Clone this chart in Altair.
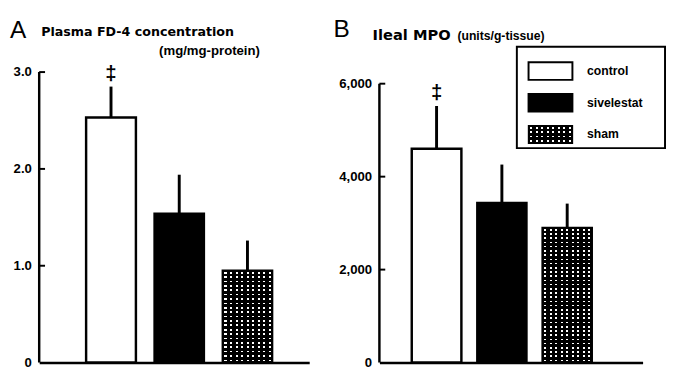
import altair as alt
import pandas as pd

# ---------------- data ----------------
groups = ["control", "sivelestat", "sham"]
fd4_mean = [2.53, 1.54, 0.95]
fd4_err = [0.32, 0.40, 0.31]
mpo_mean = [4600, 3440, 2900]
mpo_err = [920, 820, 520]
sig_marks = ["‡", "", ""]
fd4_ticks = [0, 1, 2, 3]
mpo_ticks = [0, 2000, 4000, 6000]

HEAVY = "DejaVu Sans"
SANS = "Liberation Sans"


def stripe_gradient(n, lo, hi, on_color, off_color, vertical):
    stops = []
    for i in range(n):
        a = i / n
        stops += [
            {"offset": round(a, 5), "color": off_color},
            {"offset": round(a + lo / n, 5), "color": off_color},
            {"offset": round(a + lo / n, 5), "color": on_color},
            {"offset": round(a + hi / n, 5), "color": on_color},
            {"offset": round(a + hi / n, 5), "color": off_color},
            {"offset": round((i + 1) / n, 5), "color": off_color},
        ]
    g = {"gradient": "linear", "stops": stops, "x1": 0, "y1": 0}
    if vertical:
        g.update(x2=0, y2=1)
    else:
        g.update(x2=1, y2=0)
    return g


def one(text=""):
    return alt.Chart(pd.DataFrame({"t": [text]}))


def textmark(text, x, y, size, font, weight="bold"):
    return one(text).mark_text(
        align="left", baseline="alphabetic", fontSize=size, font=font,
        fontWeight=weight, color="black"
    ).encode(x=alt.value(x), y=alt.value(y), text="t:N")


def panel(means, errs, ticks, ymax, width, pin, pout, align, label_expr, rows, titles):
    df = pd.DataFrame({
        "group": groups,
        "mean": means,
        "top": [m + e for m, e in zip(means, errs)],
        "sig": sig_marks,
    })
    tdf = pd.DataFrame({"v": ticks})
    yaxis = alt.Axis(title=None, values=ticks, labelExpr=label_expr, domain=False,
                     ticks=False, grid=False, labelFlush=False, labelPadding=8)
    yscale = alt.Scale(domain=[0, ymax], nice=False, zero=True)
    X = alt.X("group:N", scale=alt.Scale(domain=groups, paddingInner=pin,
                                          paddingOuter=pout, align=align),
              axis=alt.Axis(title=None, labels=False, ticks=False, domain=True,
                            domainColor="black", domainWidth=2.5))

    def Y(f):
        return alt.Y(f, scale=yscale, axis=yaxis)

    base = alt.Chart(df)
    control = base.transform_filter(f"datum.group == '{groups[0]}'").mark_bar(
        fill="white", stroke="black", strokeWidth=2.5).encode(x=X, y=Y("mean:Q"))
    sive = base.transform_filter(f"datum.group == '{groups[1]}'").mark_bar(
        fill="black", stroke="black", strokeWidth=2).encode(x=X, y=Y("mean:Q"))
    sham1 = base.transform_filter(f"datum.group == '{groups[2]}'").mark_bar(
        fill=stripe_gradient(9, 0.35, 0.72, "white", "black", False)).encode(x=X, y=Y("mean:Q"))
    sham2 = base.transform_filter(f"datum.group == '{groups[2]}'").mark_bar(
        fill=stripe_gradient(rows, 0.3, 0.68, "rgba(0,0,0,0)", "black", True),
        stroke="black", strokeWidth=2).encode(x=X, y=Y("mean:Q"))
    err = base.mark_rule(strokeWidth=3, color="black").encode(
        x=X, y=Y("mean:Q"), y2="top:Q")
    sig = base.transform_filter("datum.sig != ''").mark_text(
        baseline="bottom", dy=-3, fontSize=21, fontWeight="bold", font=SANS, color="black"
    ).encode(x=X, y=Y("top:Q"), text="sig:N")
    axisline = alt.Chart(tdf).transform_aggregate(lo="min(v)", hi="max(v)").mark_rule(
        strokeWidth=2.5, color="black").encode(x=alt.value(0), y=Y("lo:Q"), y2="hi:Q")
    tickm = alt.Chart(tdf).transform_filter("datum.v > 0").mark_rule(
        strokeWidth=2, color="black").encode(x=alt.value(0), x2=alt.value(6), y=Y("v:Q"))
    layers = [control, sive, sham1, sham2, err, sig, axisline, tickm] + titles
    return alt.layer(*layers).properties(width=width, height=298)


titles_a = [
    textmark("A", -30, -35, 25, SANS, "normal"),
    textmark("Plasma FD-4 concentration", 2, -37, 13, HEAVY),
    textmark("(mg/mg-protein)", 123, -18, 13.5, SANS),
]
titles_b = [
    textmark("B", -47, -36, 25, SANS, "normal"),
    textmark("Ileal MPO", -7, -33, 15, HEAVY),
    textmark("(units/g-tissue)", 80, -33, 12.5, SANS),
]

# legend (drawn in panel B coordinates)
legend = [one().mark_rect(fill="white", stroke="black", strokeWidth=2).encode(
    x=alt.value(141), x2=alt.value(293), y=alt.value(-26), y2=alt.value(78))]
fills = ["white", "black", None]
for i, g in enumerate(groups):
    top = -10 + 32.5 * i
    if fills[i] is not None:
        legend.append(one().mark_rect(fill=fills[i], stroke="black", strokeWidth=2).encode(
            x=alt.value(153), x2=alt.value(198), y=alt.value(top), y2=alt.value(top + 18)))
    else:
        legend.append(one().mark_rect(
            fill=stripe_gradient(8, 0.35, 0.72, "white", "black", False)).encode(
            x=alt.value(153), x2=alt.value(198), y=alt.value(top), y2=alt.value(top + 18)))
        legend.append(one().mark_rect(
            fill=stripe_gradient(4, 0.3, 0.68, "rgba(0,0,0,0)", "black", True),
            stroke="black", strokeWidth=1.5).encode(
            x=alt.value(153), x2=alt.value(198), y=alt.value(top), y2=alt.value(top + 18)))
    legend.append(one(g).mark_text(
        align="left", baseline="middle", fontSize=12.5, font=SANS, fontWeight="bold",
        color="black").encode(x=alt.value(213), y=alt.value(top + 9), text="t:N"))

panel_a = panel(fd4_mean, fd4_err, fd4_ticks, 3, 277, 0.27, 0.614, 0.56,
                "datum.value == 0 ? '0' : format(datum.value, '.1f')", 21, titles_a)
panel_b = panel(mpo_mean, mpo_err, mpo_ticks, 6250, 270, 0.24, 0.635, 0.39,
                "format(datum.value, ',')", 32, titles_b + legend)

chart = alt.hconcat(panel_a, panel_b, spacing=25).properties(
    padding={"left": 2, "top": 5, "right": 0, "bottom": 0}
).configure_view(stroke=None).configure_axis(
    labelFont=SANS, labelFontWeight="bold", labelFontSize=13.5, labelColor="black"
)

chart.save("out.html", embed_options={"renderer": "svg", "actions": False})
